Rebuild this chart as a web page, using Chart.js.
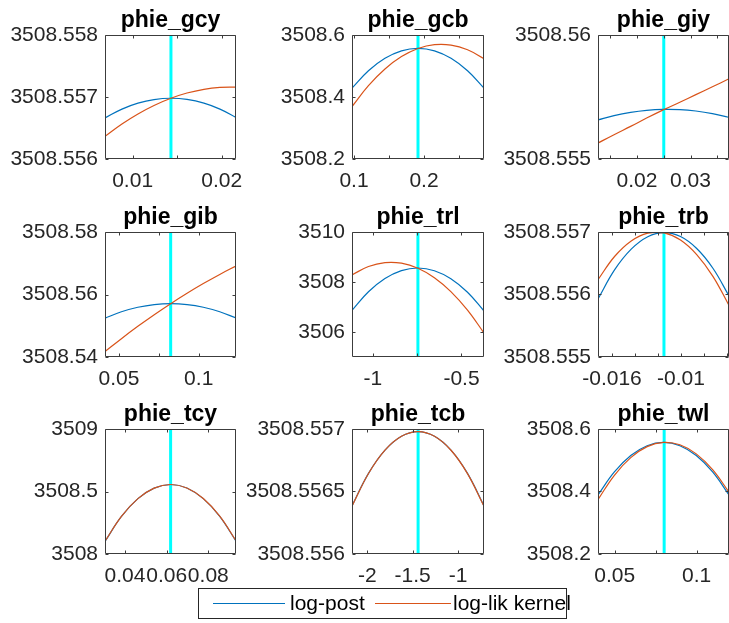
<!DOCTYPE html>
<html>
<head>
<meta charset="utf-8">
<script src="https://cdn.jsdelivr.net/npm/chart.js@4"></script>
<style>
  html, body { margin:0; padding:0; background:#fff; width:729px; height:623px; overflow:hidden; }
  #wrap { position:relative; width:729px; height:623px; overflow:hidden; }
  canvas { position:absolute; }
  #legend { position:absolute; left:198px; top:588px; width:369px; height:31px; border:1px solid #262626; background:#fff; box-sizing:border-box; font-family:'Liberation Sans', Arial, sans-serif; font-size:21px; color:#000; }
  #legend .ln { position:absolute; top:14px; height:1px; }
  #legend .tx { position:absolute; top:2px; white-space:nowrap; }
</style>
</head>
<body>
<div id="wrap">
  <div id="legend">
    <div class="ln" style="left:14px;width:72px;background:#0072BD"></div>
    <div class="tx" style="left:91px">log-post</div>
    <div class="ln" style="left:176px;width:76px;background:#D95319"></div>
    <div class="tx" style="left:254px">log-lik kernel</div>
  </div>
</div>
<script>
// ---------------- DATA ----------------
const titles = ['phie_gcy','phie_gcb','phie_giy','phie_gib','phie_trl','phie_trb','phie_tcy','phie_tcb','phie_twl'];

const xValues = [
  [0.0069, 0.0088, 0.0106, 0.0124, 0.0143, 0.0161, 0.0180, 0.0198, 0.0216],
  [0.0971, 0.1206, 0.1442, 0.1678, 0.1914, 0.2150, 0.2386, 0.2622, 0.2857],
  [0.0126, 0.0157, 0.0188, 0.0218, 0.0249, 0.0280, 0.0310, 0.0341, 0.0371],
  [0.0412, 0.0515, 0.0618, 0.0721, 0.0824, 0.0927, 0.1029, 0.1132, 0.1234],
  [-1.118, -1.025, -0.932, -0.839, -0.746, -0.653, -0.560, -0.466, -0.373],
  [-0.01722, -0.01578, -0.01433, -0.01289, -0.01146, -0.01004, -0.00863, -0.00722, -0.00582],
  [0.0304, 0.0383, 0.0462, 0.0540, 0.0619, 0.0697, 0.0776, 0.0854, 0.0933],
  [-2.169, -1.987, -1.805, -1.623, -1.441, -1.259, -1.077, -0.895, -0.713],
  [0.0398, 0.0498, 0.0598, 0.0698, 0.0798, 0.0898, 0.0998, 0.1098, 0.1198]
];

const logPost = [
  [3508.556662, 3508.556805, 3508.556901, 3508.556959, 3508.556980, 3508.556961, 3508.556901, 3508.556805, 3508.556671],
  [3508.4287, 3508.4848, 3508.5249, 3508.5490, 3508.5570, 3508.5490, 3508.5249, 3508.4848, 3508.4289],
  [3508.556567, 3508.556748, 3508.556880, 3508.556963, 3508.557001, 3508.556991, 3508.556935, 3508.556831, 3508.556684],
  [3508.55245, 3508.55447, 3508.55592, 3508.55678, 3508.55707, 3508.55678, 3508.55593, 3508.55449, 3508.55250],
  [3506.867, 3507.609, 3508.139, 3508.456, 3508.560, 3508.451, 3508.130, 3507.589, 3506.840],
  [3508.555928, 3508.556393, 3508.556725, 3508.556924, 3508.556990, 3508.556927, 3508.556736, 3508.556420, 3508.555977],
  [3508.1006, 3508.3004, 3508.4429, 3508.5274, 3508.5560, 3508.5281, 3508.4429, 3508.3025, 3508.1034],
  [3508.556385, 3508.556645, 3508.556831, 3508.556942, 3508.556979, 3508.556942, 3508.556831, 3508.556645, 3508.556385],
  [3508.3890, 3508.4625, 3508.5150, 3508.5465, 3508.5570, 3508.5465, 3508.5150, 3508.4625, 3508.3890]
];

const logLikKernel = [
  [3508.556365, 3508.556565, 3508.556727, 3508.556864, 3508.556980, 3508.557064, 3508.557124, 3508.557154, 3508.557159],
  [3508.3691, 3508.4367, 3508.4904, 3508.5304, 3508.5566, 3508.5689, 3508.5675, 3508.5522, 3508.5233],
  [3508.555632, 3508.555980, 3508.556315, 3508.556650, 3508.556980, 3508.557290, 3508.557595, 3508.557910, 3508.558224],
  [3508.54174, 3508.54587, 3508.54981, 3508.55354, 3508.55707, 3508.56040, 3508.56350, 3508.56643, 3508.56912],
  [3508.284, 3508.618, 3508.774, 3508.752, 3508.552, 3508.174, 3507.617, 3506.874, 3505.959],
  [3508.556237, 3508.556608, 3508.556857, 3508.556983, 3508.556987, 3508.556872, 3508.556639, 3508.556291, 3508.555826],
  [3508.1020, 3508.3015, 3508.4430, 3508.5272, 3508.5560, 3508.5283, 3508.4440, 3508.3045, 3508.1060],
  [3508.556383, 3508.556644, 3508.556831, 3508.556942, 3508.556979, 3508.556942, 3508.556830, 3508.556643, 3508.556382],
  [3508.3740, 3508.4519, 3508.5084, 3508.5435, 3508.5572, 3508.5495, 3508.5204, 3508.4699, 3508.3980]
];

const markerX = [0.0143, 0.1914, 0.0250, 0.0824, -0.746, -0.01148, 0.0619, -1.44, 0.0802];

const xLimits = [[0.0069,0.0216],[0.0971,0.2857],[0.0127,0.0372],[0.0412,0.1234],[-1.118,-0.373],[-0.01722,-0.00582],[0.0304,0.0933],[-2.169,-0.713],[0.0398,0.1198]];
const yLimits = [[3508.556,3508.558],[3508.2,3508.6],[3508.555,3508.56],[3508.54,3508.58],[3505,3510],[3508.555,3508.557],[3508,3509],[3508.556,3508.557],[3508.2,3508.6]];

const xTicks = [
  [0.01, 0.015, 0.02],
  [0.1, 0.15, 0.2, 0.25],
  [0.015, 0.02, 0.025, 0.03, 0.035],
  [0.05, 0.075, 0.1],
  [-1, -0.75, -0.5],
  [-0.016, -0.014, -0.012, -0.01, -0.008, -0.006],
  [0.04, 0.06, 0.08],
  [-2, -1.5, -1],
  [0.05, 0.075, 0.1]
];
const xTickLabels = [
  ['0.01', '', '0.02'],
  ['0.1', '', '0.2', ''],
  ['', '0.02', '', '0.03', ''],
  ['0.05', '', '0.1'],
  ['-1', '', '-0.5'],
  ['-0.016', '', '', '-0.01', '', ''],
  ['0.04', '0.06', '0.08'],
  ['-2', '-1.5', '-1'],
  ['0.05', '', '0.1']
];
const yTicks = [
  [3508.556, 3508.557, 3508.558],
  [3508.2, 3508.4, 3508.6],
  [3508.555, 3508.56],
  [3508.54, 3508.56, 3508.58],
  [3506, 3508, 3510],
  [3508.555, 3508.556, 3508.557],
  [3508, 3508.5, 3509],
  [3508.556, 3508.5565, 3508.557],
  [3508.2, 3508.4, 3508.6]
];
const yTickLabels = [
  ['3508.556', '3508.557', '3508.558'],
  ['3508.2', '3508.4', '3508.6'],
  ['3508.555', '3508.56'],
  ['3508.54', '3508.56', '3508.58'],
  ['3506', '3508', '3510'],
  ['3508.555', '3508.556', '3508.557'],
  ['3508', '3508.5', '3509'],
  ['3508.556', '3508.5565', '3508.557'],
  ['3508.2', '3508.4', '3508.6']
];

// ---------------- LAYOUT ----------------
const colLeft = [105, 352, 598];
const colWidth = [131, 132, 131];
const rowTop = [35, 232, 429];
const rowHeight = [124, 125, 125];
const PAD_L = 105, PAD_T = 35, PAD_R = 40, PAD_B = 40;
const FONT = "'Liberation Sans', Arial, Helvetica, sans-serif";
const AXIS_COLOR = '#262626';

const framePlugin = {
  id: 'frame',
  afterDraw(chart) {
    const ctx = chart.ctx, a = chart.chartArea;
    const xs = chart.scales.x, ys = chart.scales.y;
    ctx.save();
    ctx.strokeStyle = '#3c3c3c';
    ctx.lineWidth = 1;
    const L = Math.round(a.left) + 0.5, R = Math.round(a.right) - 0.5;
    const T = Math.round(a.top) + 0.5, B = Math.round(a.bottom) - 0.5;
    ctx.beginPath();
    ctx.rect(L, T, R - L, B - T);
    ctx.stroke();
    ctx.beginPath();
    xs.ticks.forEach(t => {
      const p = Math.round(xs.getPixelForValue(t.value)) + 0.5;
      ctx.moveTo(p, B); ctx.lineTo(p, B - 3);
      ctx.moveTo(p, T); ctx.lineTo(p, T + 3);
    });
    ys.ticks.forEach(t => {
      const p = Math.round(ys.getPixelForValue(t.value)) + 0.5;
      ctx.moveTo(L, p); ctx.lineTo(L + 3, p);
      ctx.moveTo(R, p); ctx.lineTo(R - 3, p);
    });
    ctx.stroke();
    // title
    ctx.fillStyle = '#000';
    ctx.font = 'bold 23px ' + FONT;
    ctx.textAlign = 'center';
    ctx.textBaseline = 'alphabetic';
    ctx.fillText(chart.options.plugins.frame.title, (a.left + a.right) / 2, a.top - 8);
    ctx.restore();
  }
};

const wrap = document.getElementById('wrap');

for (let i = 0; i < 9; i++) {
  const r = Math.floor(i / 3), c = i % 3;
  const pw = colWidth[c], ph = rowHeight[r];
  const cv = document.createElement('canvas');
  cv.width = PAD_L + pw + PAD_R;
  cv.height = PAD_T + ph + PAD_B;
  cv.style.left = (colLeft[c] - PAD_L) + 'px';
  cv.style.top = (rowTop[r] - PAD_T) + 'px';
  cv.style.width = cv.width + 'px';
  cv.style.height = cv.height + 'px';
  wrap.insertBefore(cv, document.getElementById('legend'));

  const toPts = (ys) => xValues[i].map((x, k) => ({ x: x, y: ys[k] }));

  new Chart(cv, {
    type: 'line',
    data: {
      datasets: [
        { label: 'log-lik kernel', data: toPts(logLikKernel[i]), borderColor: '#D95319', borderWidth: 1.2, pointRadius: 0, tension: 0.4, fill: false, order: 0 },
        { label: 'log-post', data: toPts(logPost[i]), borderColor: '#0072BD', borderWidth: 1.2, pointRadius: 0, tension: 0.4, fill: false, order: 1 },
        { label: 'marker', data: [{ x: markerX[i], y: yLimits[i][0] }, { x: markerX[i], y: yLimits[i][1] }], borderColor: '#00FFFF', borderWidth: 3, pointRadius: 0, tension: 0, fill: false, order: 2 }
      ]
    },
    options: {
      responsive: false,
      animation: false,
      devicePixelRatio: 1,
      layout: { padding: { left: 0, top: PAD_T, right: PAD_R, bottom: 0 } },
      plugins: {
        legend: { display: false },
        tooltip: { enabled: false },
        title: { display: false },
        frame: { title: titles[i] }
      },
      scales: {
        x: {
          type: 'linear',
          min: xLimits[i][0], max: xLimits[i][1],
          afterBuildTicks: (s) => { s.ticks = xTicks[i].map(v => ({ value: v })); },
          afterFit: (s) => { s.height = PAD_B; },
          grid: { display: false, drawTicks: false },
          border: { display: false },
          ticks: {
            autoSkip: false, maxRotation: 0, minRotation: 0, padding: 10,
            color: AXIS_COLOR, font: { family: FONT, size: 21 },
            callback: (v, k) => xTickLabels[i][k]
          }
        },
        y: {
          type: 'linear',
          min: yLimits[i][0], max: yLimits[i][1],
          afterBuildTicks: (s) => { s.ticks = yTicks[i].map(v => ({ value: v })); },
          afterFit: (s) => { s.width = PAD_L; },
          grid: { display: false, drawTicks: false },
          border: { display: false },
          ticks: {
            autoSkip: false, padding: 7,
            color: AXIS_COLOR, font: { family: FONT, size: 21 },
            callback: (v, k) => yTickLabels[i][k]
          }
        }
      }
    },
    plugins: [framePlugin]
  });
}
</script>
</body>
</html>
